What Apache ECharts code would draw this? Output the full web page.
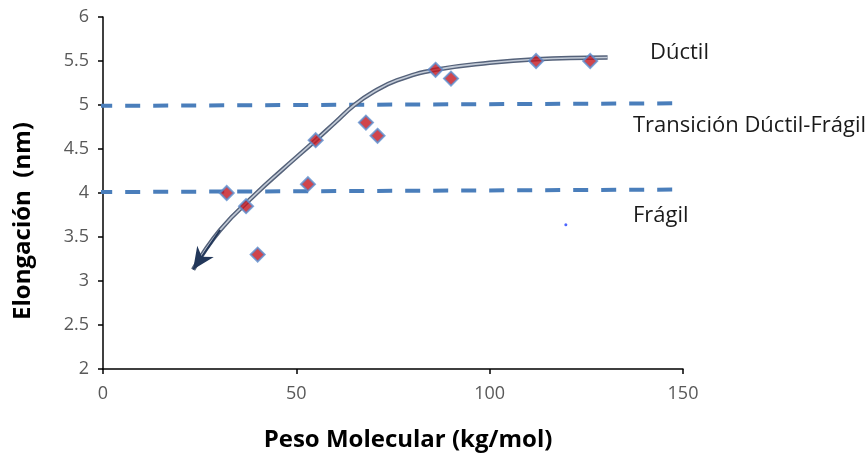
<!DOCTYPE html>
<html>
<head>
<meta charset="utf-8">
<script src="https://cdn.jsdelivr.net/npm/echarts@6/dist/echarts.min.js"></script>
<style>
  html, body { margin: 0; padding: 0; background: #fff; }
  #chart { width: 867px; height: 456px; }
</style>
</head>
<body>
<div id="chart"></div>
<script>
// measured points (kg/mol, nm)
const pesoMolecular = [32, 37, 40, 53, 55, 68, 71, 86, 90, 112, 126];
const elongacion = [4.0, 3.85, 3.3, 4.1, 4.6, 4.8, 4.65, 5.4, 5.3, 5.5, 5.5];

// hand-drawn trend curve (right to left, ends in arrow)
const curveX = [130.5, 112, 100, 86, 76, 70, 65, 60, 55, 46, 40, 30.3, 23.3];
const curveY = [5.54, 5.52, 5.48, 5.40, 5.28, 5.15, 5.0, 4.8, 4.6, 4.25, 4.01, 3.58, 3.13];

// transition lines
const ductilLineX = [-1.5, 152.5];
const ductilLineY = [4.99, 5.02];
const fragilLineX = [-1.5, 152.5];
const fragilLineY = [4.01, 4.04];

// lone marker of the "Frágil" series
const fragilDot = [[119.7, 3.64]];

const xTicks = [0, 50, 100, 150];
const yTicks = [2, 2.5, 3, 3.5, 4, 4.5, 5, 5.5, 6];

const zip = (xs, ys) => xs.map((x, i) => [x, ys[i]]);
const curve = zip(curveX, curveY);
const n = curve.length;

const FONT = '"Open Sans", sans-serif';
const tickColor = '#595959';

const chart = echarts.init(document.getElementById('chart'));

chart.setOption({
  backgroundColor: '#fff',
  animation: false,
  grid: { left: 103, top: 17, width: 580, height: 352 },
  xAxis: {
    type: 'value',
    min: xTicks[0],
    max: xTicks[xTicks.length - 1],
    interval: 50,
    splitLine: { show: false },
    axisLine: { lineStyle: { color: '#000', width: 1.5 } },
    axisTick: { show: true, length: 5, lineStyle: { color: '#000', width: 1.5 } },
    axisLabel: { color: tickColor, fontSize: 18, fontFamily: FONT, margin: 16 }
  },
  yAxis: {
    type: 'value',
    min: yTicks[0],
    max: yTicks[yTicks.length - 1],
    interval: 0.5,
    splitLine: { show: false },
    axisLine: { show: true, lineStyle: { color: '#000', width: 1.5 } },
    axisTick: { show: true, length: 5, lineStyle: { color: '#000', width: 1.5 } },
    axisLabel: { color: tickColor, fontSize: 18, fontFamily: FONT, margin: 14 }
  },
  series: [
    {
      type: 'line',
      data: zip(ductilLineX, ductilLineY),
      clip: false,
      symbol: 'none',
      lineStyle: { color: '#4a7ebb', width: 4, type: [15, 13] },
      z: 1
    },
    {
      type: 'line',
      data: zip(fragilLineX, fragilLineY),
      clip: false,
      symbol: 'none',
      lineStyle: { color: '#4a7ebb', width: 4, type: [15, 13] },
      z: 1
    },
    {
      type: 'line',
      data: curve,
      smooth: 0.45,
      symbol: 'none',
      lineStyle: { color: '#55627a', width: 4.5 },
      z: 2,
      markLine: {
        silent: true,
        symbol: ['none', 'path://M10,0 L20,20 L10,14 L0,20 Z'],
        symbolSize: [20, 22],
        symbolOffset: [[0, 0], [0, 11]],
        label: { show: false },
        lineStyle: { color: '#22375a', width: 2, type: 'solid' },
        data: [[{ coord: curve[n - 2] }, { coord: curve[n - 1] }]]
      }
    },
    {
      type: 'line',
      data: curve,
      smooth: 0.45,
      symbol: 'none',
      lineStyle: { color: '#c3cbd7', width: 1.6 },
      z: 3
    },
    {
      type: 'scatter',
      data: zip(pesoMolecular, elongacion),
      symbol: 'diamond',
      symbolSize: 14,
      itemStyle: { color: '#c4161f', borderColor: '#5b8fd0', borderWidth: 2 },
      z: 4
    },
    {
      type: 'scatter',
      data: fragilDot,
      symbol: 'circle',
      symbolSize: 3,
      itemStyle: { color: '#2040ff' },
      z: 4
    }
  ],
  graphic: [
    { type: 'text', left: 650, top: 42, style: { text: 'Dúctil', fontSize: 22, fontFamily: FONT, fill: '#1a1a1a' } },
    { type: 'text', left: 633, top: 115, style: { text: 'Transición Dúctil-Frágil', fontSize: 22, fontFamily: FONT, fill: '#1a1a1a' } },
    { type: 'text', left: 633, top: 205, style: { text: 'Frágil', fontSize: 22, fontFamily: FONT, fill: '#1a1a1a' } },
    {
      type: 'text', x: 408, y: 440,
      style: { text: 'Peso Molecular (kg/mol)', fontSize: 24, fontWeight: 'bold', fontFamily: FONT, fill: '#000', align: 'center', verticalAlign: 'middle' }
    },
    {
      type: 'text', x: 23, y: 221, rotation: Math.PI / 2,
      style: { text: 'Elongación  (nm)', fontSize: 24, fontWeight: 'bold', fontFamily: FONT, fill: '#000', align: 'center', verticalAlign: 'middle' }
    }
  ]
});
</script>
</body>
</html>
